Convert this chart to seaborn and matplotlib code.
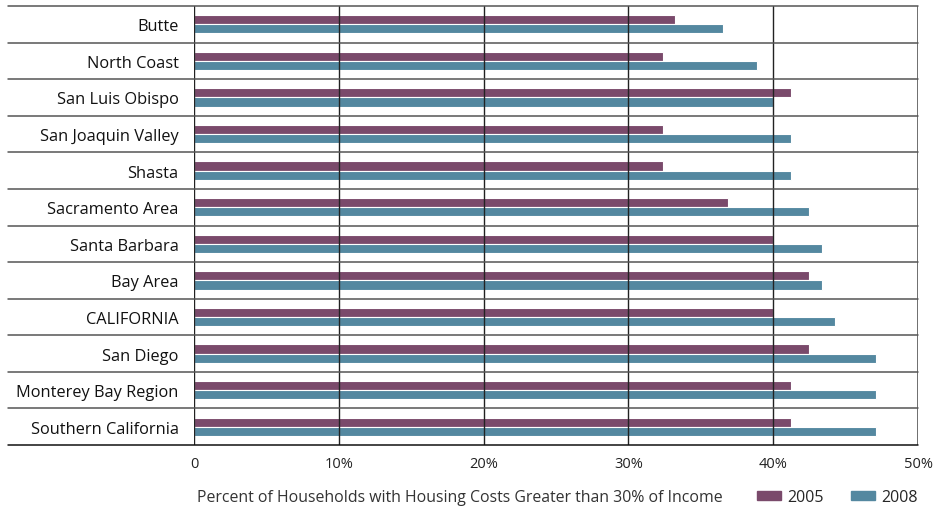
import matplotlib
matplotlib.use("Agg")
import matplotlib.pyplot as plt
import matplotlib.patches as mpatches
import matplotlib.transforms as mtransforms
import seaborn as sns
import pandas as pd

regions = ["Butte", "North Coast", "San Luis Obispo", "San Joaquin Valley", "Shasta",
           "Sacramento Area", "Santa Barbara", "Bay Area", "CALIFORNIA", "San Diego",
           "Monterey Bay Region", "Southern California"]
v2005 = [33.2, 32.4, 41.2, 32.4, 32.4, 36.9, 40.0, 42.5, 40.0, 42.5, 41.2, 41.2]
v2008 = [36.5, 38.9, 40.0, 41.2, 41.2, 42.5, 43.4, 43.4, 44.3, 47.1, 47.1, 47.1]
years = ["2005", "2008"]
xticks = [0, 10, 20, 30, 40, 50]
xticklabels = ["0", "10%", "20%", "30%", "40%", "50%"]
xlabel = "Percent of Households with Housing Costs Greater than 30% of Income"

colors = {"2005": "#7a4a6b", "2008": "#5488a0"}

df = pd.DataFrame({
    "Region": regions * 2,
    "Year": ["2005"] * len(regions) + ["2008"] * len(regions),
    "Value": v2005 + v2008,
})

sns.set_style("white")
plt.rcParams["font.family"] = ["Open Sans", "DejaVu Sans"]

W, H = 936, 510
fig = plt.figure(figsize=(W / 100, H / 100), dpi=100)
x0, x1, y0, y1 = 194, 918, 7, 446
ax = fig.add_axes([x0 / W, 1 - y1 / H, (x1 - x0) / W, (y1 - y0) / H])

sns.barplot(data=df, y="Region", x="Value", hue="Year", order=regions, hue_order=years,
            palette=colors, orient="h", width=0.5, ax=ax, legend=False,
            edgecolor="white", linewidth=0.8, saturation=1)

ax.set_xlim(0, 50)
ax.set_ylim(len(regions) - 0.5, -0.5)
ax.set_xticks(xticks)
ax.set_xticklabels(xticklabels, fontsize=10.5, color="#222222")
ax.tick_params(axis="x", length=0, pad=8)
ax.tick_params(axis="y", length=0, pad=11)
for lab in ax.get_yticklabels():
    lab.set_fontsize(11.8)
    lab.set_fontweight("medium")
    lab.set_color("#111111")
ax.set_xlabel("")
ax.set_ylabel("")

# vertical grid lines on top of bars
for t in xticks[1:-1]:
    ax.axvline(t, color="#222222", lw=1.0, zorder=5)

for side in ["top", "bottom", "left", "right"]:
    ax.spines[side].set_visible(False)
ax.axvline(0, color="#222222", lw=1.0, zorder=6)
ax.axvline(50, color="#555555", lw=1.2, zorder=6)

# row separators extending into label area
trans = mtransforms.blended_transform_factory(ax.transAxes, ax.transData)
left = (8 - x0) / (x1 - x0)
for i in range(len(regions) + 1):
    y = i - 0.5
    col = "#111111" if i == len(regions) else "#555555"
    ax.plot([left, 1], [y, y], transform=trans, color=col, lw=1.1, clip_on=False, zorder=6)

fig.text(460 / W, 1 - 498 / H, xlabel, ha="center", va="center", fontsize=11.4, color="#333333")

handles = [mpatches.Patch(color=colors[y], label=y) for y in years]
fig.legend(handles=handles, loc="center right", bbox_to_anchor=(924 / W, 1 - 498 / H),
           ncol=2, frameon=False, fontsize=11.5, handlelength=1.5, handleheight=0.45,
           columnspacing=1.7, handletextpad=0.4, borderaxespad=0)

fig.savefig("out.png", dpi=100)
